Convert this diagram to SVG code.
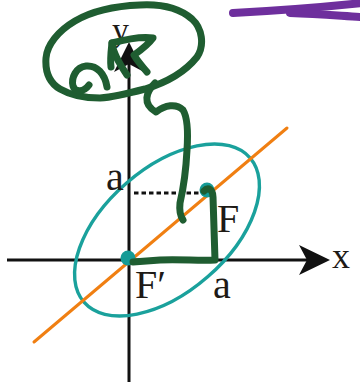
<svg xmlns="http://www.w3.org/2000/svg" width="360" height="382" viewBox="0 0 360 382">
  <style>
    .axis { stroke: #111; stroke-width: 3; fill: none; }
    .lbl { font-family: "Liberation Serif", "Times New Roman", serif; fill: #1e1a16; }
    .ink { fill: none; stroke: #1f5d31; stroke-width: 7; stroke-linecap: round; stroke-linejoin: round; }
    .purple { fill: none; stroke: #6e2f9d; stroke-width: 8; stroke-linecap: round; }
    .focus { fill: #159b96; }
  </style>
  <rect width="360" height="382" fill="#ffffff"/>

  <g id="axes">
    <line class="axis" x1="7" y1="260" x2="312" y2="260"/>
    <path d="M330,260 L299,245 L307,260 L299,275 Z" fill="#111"/>
    <line class="axis" x1="129" y1="60" x2="129" y2="382"/>
    <path d="M129,42 L114,72 L129,64 L144,72 Z" fill="#111"/>
    <text class="lbl" x="332" y="268" font-size="36">x</text>
    <text class="lbl" x="112" y="41" font-size="34">y</text>
  </g>

  <g id="ellipse">
    <ellipse cx="167" cy="230" rx="110" ry="62" transform="rotate(-41 167 230)" fill="none" stroke="#1aa19c" stroke-width="3.4"/>
  </g>

  <g id="line">
    <line x1="34" y1="342" x2="287" y2="128" stroke="#f07f12" stroke-width="3" stroke-linecap="round"/>
  </g>

  <g id="dotted">
    <line x1="134" y1="193" x2="203" y2="193" stroke="#111" stroke-width="3" stroke-dasharray="4.5 3"/>
  </g>

  <g id="focusF">
    <circle class="focus" cx="207" cy="190" r="7.5"/>
    <text class="lbl" x="217" y="232" font-size="40">F</text>
  </g>
  <g id="focusF2">
    <circle class="focus" cx="128" cy="258" r="7.5"/>
    <text class="lbl" x="135" y="298" font-size="40">F′</text>
  </g>
  <g id="labelA1">
    <text class="lbl" x="106" y="190" font-size="40">a</text>
  </g>
  <g id="labelA2">
    <text class="lbl" x="213" y="298" font-size="40">a</text>
  </g>

  <g id="annotations">
    <path class="ink" d="M100,98 C115,97 130,93 145,89 C165,83 185,72 197,57 C205,45 202,28 192,19 C178,7 158,4 140,5 C115,6 92,11 75,21 C58,31 47,45 46,58 C45,72 50,83 60,89 C72,96 88,98 100,98"/>
    <path class="ink" d="M107,87 C105,74 97,65 86,66 C76,67 71,78 73,86 C75,93 84,92 89,85"/>
    <path class="ink" d="M127,75 C119,63 113,53 112,43 C127,39 141,36 153,38 C148,45 141,50 134,55 C138,62 143,67 147,72"/>
    <path class="ink" d="M112,43 C111,52 110,60 111,67"/>
    <path class="ink" d="M155,83 C146,92 142,104 156,112 C165,105 176,103 183,110 C188,118 188,135 187,150 C186,170 183,190 180,203 C179,212 181,217 183,220"/>
    <path class="ink" d="M204,191 C208,187 213,189 213,197 L215,260 C200,261 180,259 160,260 L133,262"/>
    <path class="purple" d="M233,13 C270,11 315,8 362,3"/>
    <path class="purple" d="M290,13 C320,14 343,16 362,17"/>
  </g>
</svg>
